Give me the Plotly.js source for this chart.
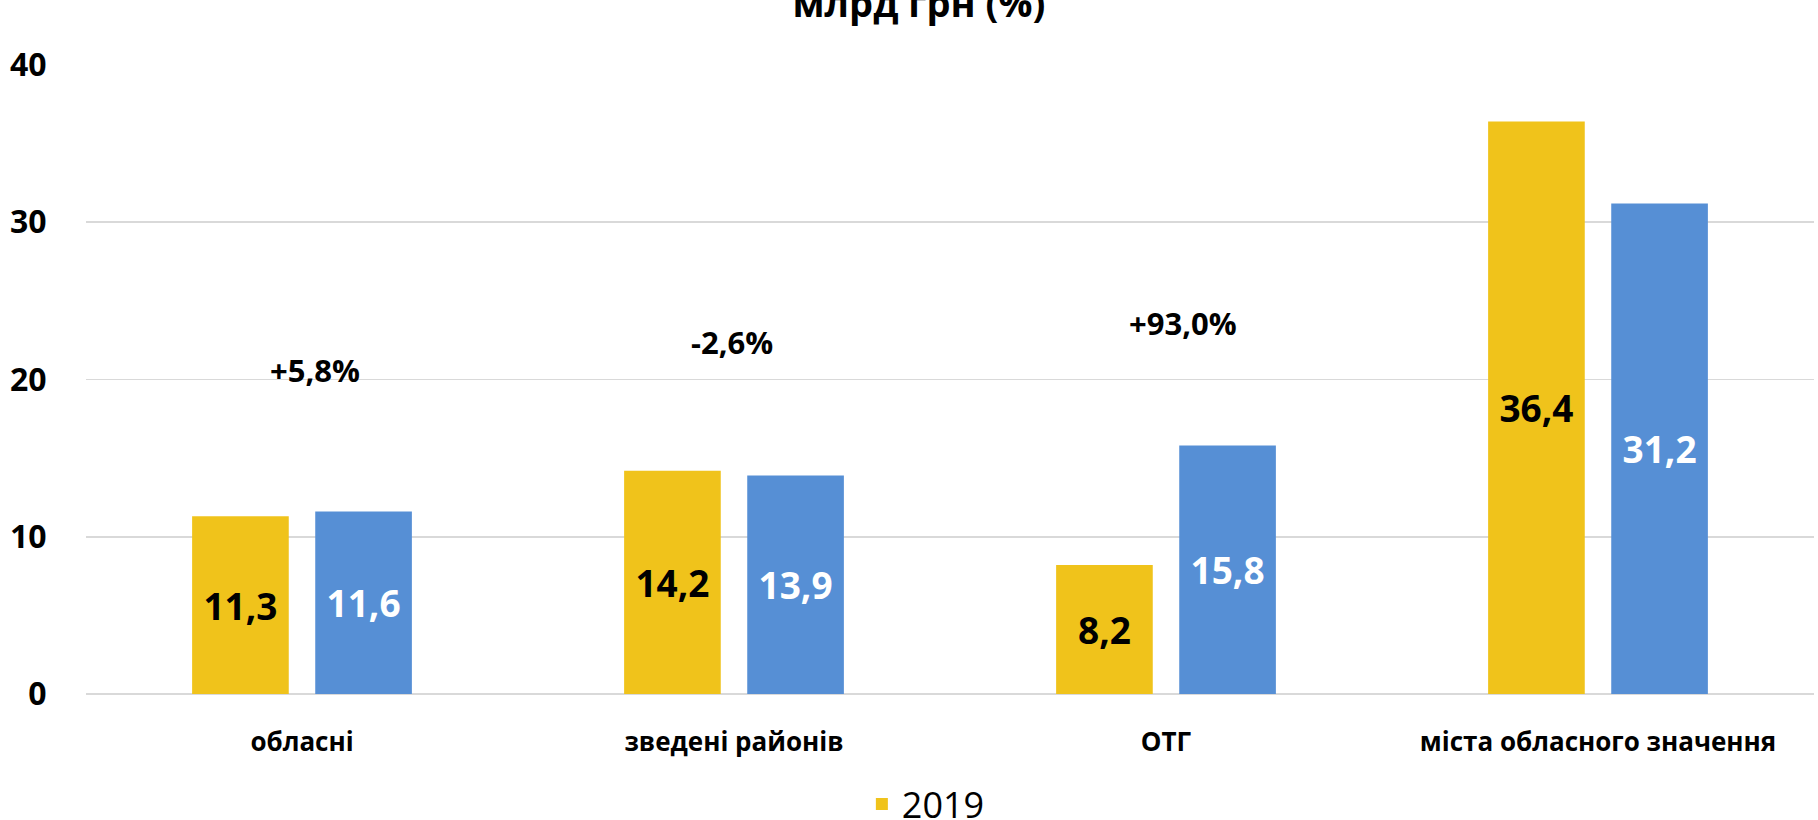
<!DOCTYPE html>
<html>
<head>
<meta charset="utf-8">
<script src="https://cdn.plot.ly/plotly-3.0.1.min.js"></script>
<style>
  html, body { margin: 0; padding: 0; background: #ffffff; }
  #chart { width: 1818px; height: 820px; }
</style>
</head>
<body>
<div id="chart"></div>
<script>
// ---- data ----
const categories = ['обласні', 'зведені районів', 'ОТГ', 'міста обласного значення'];
const values2019 = [11.3, 14.2, 8.2, 36.4];
const values2020 = [11.6, 13.9, 15.8, 31.2];
const changeLabels = ['+5,8%', '-2,6%', '+93,0%', '-6,8%'];
const yTicks = [0, 10, 20, 30, 40];
const titleText = 'млрд грн (%)';

// ---- styling ----
const FONT = '"Open Sans", "Noto Sans", sans-serif';
const YELLOW = '#F0C31B';
const BLUE = '#568FD5';
const GRID = '#D9D9D9';

const fmt = v => v.toFixed(1).replace('.', ',');

const traces = [
  {
    type: 'bar', name: '2019', x: categories, y: values2019,
    text: values2019.map(fmt), textposition: 'inside', insidetextanchor: 'middle',
    textangle: 0, constraintext: 'none',
    textfont: { family: FONT, size: 37, color: '#000000', weight: 'bold' },
    marker: { color: YELLOW }, hoverinfo: 'x+y', showlegend: true
  },
  {
    type: 'bar', name: '2020', x: categories, y: values2020,
    text: values2020.map(fmt), textposition: 'inside', insidetextanchor: 'middle',
    textangle: 0, constraintext: 'none',
    textfont: { family: FONT, size: 37, color: '#FFFFFF', weight: 'bold' },
    marker: { color: BLUE }, hoverinfo: 'x+y', showlegend: false
  }
];

// vertical placement of change labels (data units) and horizontal nudges (px)
const changeY = [20.6, 22.4, 23.6, 42.55];
const changeShift = [13, -2, 17, -24];

const annotations = changeLabels.map((t, i) => ({
  x: categories[i], y: changeY[i], xref: 'x', yref: 'y',
  text: t, showarrow: false, xshift: changeShift[i],
  xanchor: 'center', yanchor: 'middle',
  font: { family: FONT, size: 31, color: '#000000', weight: 'bold' }
}));

const layout = {
  width: 1818, height: 820,
  margin: { l: 86, r: 4, t: 65, b: 126, autoexpand: false },
  paper_bgcolor: '#ffffff', plot_bgcolor: '#ffffff',
  barmode: 'group', bargap: 0.43, bargroupgap: 0.215,
  separators: ', ',
  title: {
    text: titleText, xref: 'container', yref: 'container',
    x: 919 / 1818, y: 0.9955, xanchor: 'center', yanchor: 'middle',
    font: { family: FONT, size: 38, color: '#000000', weight: 'bold' }
  },
  xaxis: {
    type: 'category', showgrid: false, zeroline: false,
    showline: false, ticks: 'outside', ticklen: 25, tickcolor: 'rgba(0,0,0,0)',
    tickfont: { family: FONT, size: 26, color: '#000000', weight: 'bold' },
    fixedrange: true
  },
  yaxis: {
    range: [0, 40], tickvals: yTicks, ticktext: yTicks.map(String),
    showgrid: true, gridcolor: GRID, gridwidth: 1.6,
    zeroline: true, zerolinecolor: GRID, zerolinewidth: 1.6,
    showline: false, ticks: 'outside', ticklen: 32, tickcolor: 'rgba(0,0,0,0)',
    tickfont: { family: FONT, size: 32, color: '#000000', weight: 'bold' },
    fixedrange: true
  },
  legend: {
    orientation: 'h', x: 0.449, xanchor: 'left', y: -0.175, yanchor: 'middle',
    font: { family: FONT, size: 36, color: '#000000' },
    bgcolor: 'rgba(0,0,0,0)'
  },
  annotations: annotations
};

Plotly.newPlot('chart', traces, layout, { displayModeBar: false, staticPlot: true });
</script>
</body>
</html>
